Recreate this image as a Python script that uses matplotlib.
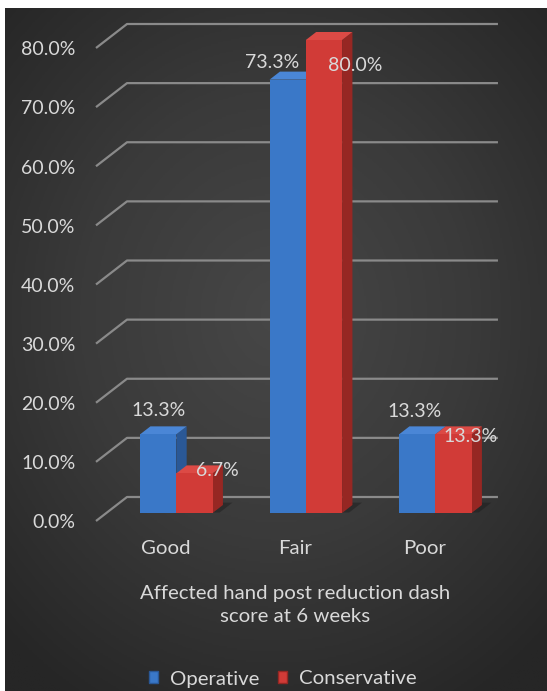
import numpy as np
import matplotlib.pyplot as plt
from matplotlib.patches import Polygon, Patch
from matplotlib.colors import LinearSegmentedColormap

categories = ['Good', 'Fair', 'Poor']
series_names = ['Operative', 'Conservative']
operative = [0.133, 0.733, 0.133]
conservative = [0.067, 0.800, 0.133]
yticks = [0.0, 0.1, 0.2, 0.3, 0.4, 0.5, 0.6, 0.7, 0.8]
xtitle = 'Affected hand post reduction dash\nscore at 6 weeks'

W, H = 547, 691
plt.rcParams['font.family'] = ['Lato', 'DejaVu Sans']
txt = '#d9d9d9'
fs_num = 14
fs_word = 14.7

fig = plt.figure(figsize=(W / 100, H / 100), dpi=100)
fig.patch.set_facecolor('white')

# dark radial background (leaves thin white strip top/left)
bg = fig.add_axes([5 / W, 0, (W - 5) / W, (H - 8) / H])
yy, xx = np.mgrid[-1:1:400j, -1:1:400j]
r = np.sqrt((xx * 1.0) ** 2 + ((yy + 0.1) * 1.1) ** 2)
cmap = LinearSegmentedColormap.from_list('bg', ['#474747', '#3a3a3a', '#262626'])
bg.imshow(r, cmap=cmap, vmin=0, vmax=1.45, aspect='auto')
bg.axis('off')

ax = fig.add_axes([0, 0, 1, 1])
ax.patch.set_alpha(0)
ax.axis('off')
ax.set_xlim(-166 / 129.5, (W - 166) / 129.5)
ax.set_ylim((521 - H) / 591.25, 521 / 591.25)

DX, DY = 31 / 129.5, 24 / 591.25  # full floor depth


def proj(x, y, z):
    return (x + z * DX, y + z * DY)


x0, x1 = -0.5405, 2.324
for v in yticks:
    a = proj(x0, v, 0)
    b = proj(x0, v, 1)
    c = proj(x1, v, 1)
    ax.plot([a[0], b[0], c[0]], [a[1], b[1], c[1]], color='#8a8a8a', lw=1.6,
            solid_capstyle='butt', zorder=1)
    ax.text(x0 - 0.16, v - 0.003, f'{v * 100:.1f}%', color=txt, fontsize=fs_num,
            ha='right', va='center')

colors = [('#3a78c8', '#2a5896', '#4a86d6'), ('#d13b37', '#962723', '#dc4a45')]
bw = 0.28
z0, z1 = 1 / 3, 2 / 3
label_off = [[(0, 24), (23, 3)], [(-16, 17), (31, -25)], [(-3, 23), (17, -2)]]

for i, cat in enumerate(categories):
    for s, vals in enumerate([operative, conservative]):
        h = vals[i]
        xl = i - bw + s * bw
        xr = xl + bw
        front, side, top = colors[s]
        # soft shadow on floor
        ax.add_patch(Polygon([proj(xl + 0.02, 0, z0 + 0.02), proj(xr + 0.05, 0, z0 + 0.02),
                              proj(xr + 0.05, 0, z1 + 0.1), proj(xl + 0.05, 0, z1 + 0.1)],
                             closed=True, fc='#1e1e1e', ec='none', alpha=0.5, zorder=2))
        ax.add_patch(Polygon([proj(xr, 0, z0), proj(xr, 0, z1), proj(xr, h, z1), proj(xr, h, z0)],
                             closed=True, fc=side, ec='none', zorder=3 + i * 2 + s))
        ax.add_patch(Polygon([proj(xl, h, z0), proj(xr, h, z0), proj(xr, h, z1), proj(xl, h, z1)],
                             closed=True, fc=top, ec='none', zorder=3 + i * 2 + s))
        ax.add_patch(Polygon([proj(xl, 0, z0), proj(xr, 0, z0), proj(xr, h, z0), proj(xl, h, z0)],
                             closed=True, fc=front, ec='none', zorder=3 + i * 2 + s))
        ax.annotate(f'{h * 100:.1f}%', proj((xl + xr) / 2, h, z0), xytext=label_off[i][s],
                    textcoords='offset pixels', color=txt, fontsize=fs_num, ha='center',
                    va='center', zorder=20)
    ax.text(i, -0.0457, cat, color=txt, fontsize=fs_word, ha='center', va='center')

ax.text(1.0, -0.142, xtitle, color=txt, fontsize=fs_word, ha='center', va='center',
        linespacing=1.45)

handles = [Patch(fc=colors[0][0], ec=colors[0][1]), Patch(fc=colors[1][0], ec=colors[1][1])]
ax.legend(handles, series_names, loc='center', bbox_to_anchor=(283 / W, 1 - 679 / H),
          bbox_transform=fig.transFigure, ncol=2, frameon=False, fontsize=fs_word,
          handlelength=0.45, handleheight=0.5, handletextpad=0.6, columnspacing=0.9,
          labelcolor=txt)

fig.savefig('out.png', dpi=100)
